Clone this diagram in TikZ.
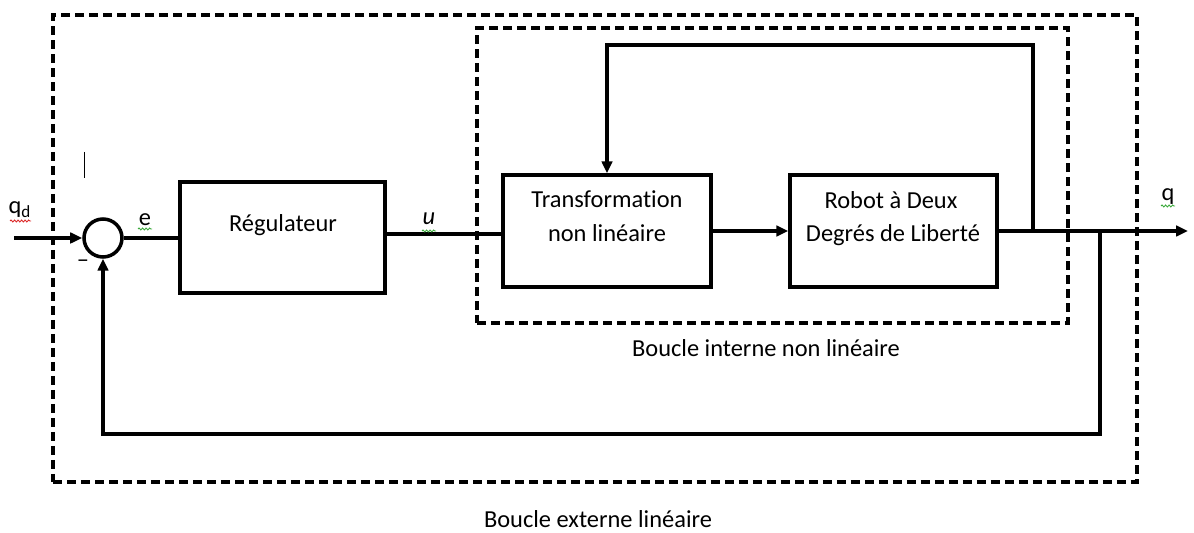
\documentclass[tikz,border=0pt]{standalone}
\usepackage{fontspec}
\setmainfont{Carlito}[Ligatures=NoCommon]
\usetikzlibrary{arrows.meta,decorations.pathmorphing}

\definecolor{spellred}{RGB}{220,40,40}
\definecolor{spellgreen}{RGB}{60,170,60}

\tikzset{
  wire/.style={line width=2pt},
  sig/.style={wire, -{Triangle[length=0.24cm,width=0.21cm]}},
  blockbox/.style={draw, line width=2pt, rectangle, inner sep=0pt},
  loopbox/.style={draw, line width=1.9pt, rectangle, inner sep=0pt,
                  dash pattern=on 0.18cm off 0.1cm},
  sumjunction/.style={draw, line width=2pt, circle, inner sep=0pt,
                      minimum size=0.76cm},
  txt/.style={font=\fontsize{13.9}{16}\selectfont, inner sep=0pt, anchor=base},
  squiggle/.style={line width=0.5pt, decorate,
                   decoration={snake, amplitude=0.02cm, segment length=0.07cm}}
}

\begin{document}
\begin{tikzpicture}[x=0.02cm, y=-0.02cm]
  \useasboundingbox (0,0) rectangle (1194,533);

  % loops (dashed frames)
  \node[loopbox, minimum width=21.68cm, minimum height=9.34cm] (outer) at (595,248.5) {};
  \node[loopbox, minimum width=11.82cm, minimum height=5.9cm] (inner) at (772.5,175.5) {};

  % blocks
  \node[sumjunction] (sum) at (103,238) {};
  \node[blockbox, minimum width=4.1cm, minimum height=2.22cm] (reg) at (282.5,237.5) {};
  \node[blockbox, minimum width=4.16cm, minimum height=2.24cm] (trans) at (607,231) {};
  \node[blockbox, minimum width=4.14cm, minimum height=2.24cm] (robot) at (893.5,231) {};

  % block texts
  \node[txt] (regtxt) at (283,232) {Régulateur};
  \node[txt] (transtxt1) at (607,208) {Transformation};
  \node[txt] (transtxt2) at (607,242) {non linéaire};
  \node[txt] (robottxt1) at (891,208.5) {Robot à Deux};
  \node[txt] (robottxt2) at (893,242) {Degrés de Liberté};

  % loop captions
  \node[txt] (innercap) at (766,357) {Boucle interne non linéaire};
  \node[txt] (outercap) at (598,527) {Boucle externe linéaire};

  % auxiliary points
  \coordinate (qin) at (14,238);
  \coordinate (qout) at (1188,231);
  \coordinate (tapin) at (1033,231);
  \coordinate (inntop) at (1033,45);
  \coordinate (tapout) at (1100,231);
  \coordinate (outbot) at (1100,434);

  % forward path
  \draw[sig] (qin) -- (sum.west);
  \draw[wire] (sum.east) -- (sum.east -| reg.west);
  \draw[wire] ([yshift=0.07cm]reg.east) -- ([yshift=0.07cm]reg.east -| trans.west);
  \draw[sig] (trans.east) -- (trans.east -| robot.west);
  \draw[sig] (robot.east) -- (qout);

  % inner feedback
  \draw[sig] (tapin) -- (inntop) -| (trans.north);
  % outer feedback
  \draw[sig] (tapout) -- (outbot) -| (sum.south);

  % signal labels
  \node[txt] (qd) at (20,214) {q\textsubscript{d}};
  \node[txt] (e) at (145,226) {e};
  \node[txt] (u) at (429,225) {\textit{u}};
  \node[txt] (q) at (1168,201) {q};
  \node[txt] (minus) at (83,268) {\textendash};

  % text cursor
  \draw[line width=1.1pt] (84.5,152) -- (84.5,178);

  % spell-check underlines
  \draw[squiggle, spellred] (10,221) -- (31,221);
  \draw[squiggle, spellgreen] (138,229) -- (152,229);
  \draw[squiggle, spellgreen] (422,231) -- (436,231);
  \draw[squiggle, spellgreen] (1161,206) -- (1175,206);
\end{tikzpicture}
\end{document}
